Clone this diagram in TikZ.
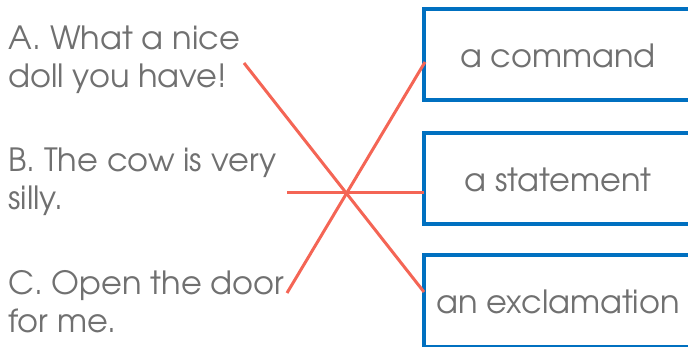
\documentclass[tikz,border=0pt]{standalone}
\usepackage{fontspec}
\setmainfont{TeX Gyre Adventor}
\definecolor{txtgray}{RGB}{112,112,112}
\definecolor{boxblue}{RGB}{0,112,192}
\definecolor{linered}{RGB}{244,101,85}
\begin{document}
\begin{tikzpicture}[x=1pt,y=-1pt,
  sentence/.style={anchor=base west,inner sep=0pt,align=left,text=txtgray,
    font=\fontsize{32}{38}\selectfont},
  answerbox/.style={draw=boxblue,line width=4pt,minimum width=268pt,minimum height=91pt,
    inner sep=0pt,text height=26pt,text depth=0pt,text=txtgray,font=\fontsize{32}{38}\selectfont},
  match/.style={draw=linered,line width=3pt}]
\useasboundingbox (0,0) rectangle (688,347);
\node[sentence] (sa) at (8,88) {A. What a nice\\doll you have!};
\node[sentence] (sb) at (8,210) {B. The cow is very\\silly.};
\node[sentence] (sc) at (8,332) {C. Open the door\\for me.};
\node[answerbox] (b1) at (558,55) {a command};
\node[answerbox] (b2) at (558,178.5) {a statement};
\node[answerbox] (b3) at (558,301) {an exclamation};
\coordinate (ea) at (244,63);
\coordinate (eb) at (287,193);
\coordinate (ec) at (287,293);
\coordinate (e1) at (425,62);
\coordinate (e2) at (424,193);
\coordinate (e3) at (424,292);
\draw[match] (ea) -- (e3);
\draw[match] (eb) -- (e2);
\draw[match] (ec) -- (e1);
\end{tikzpicture}
\end{document}
